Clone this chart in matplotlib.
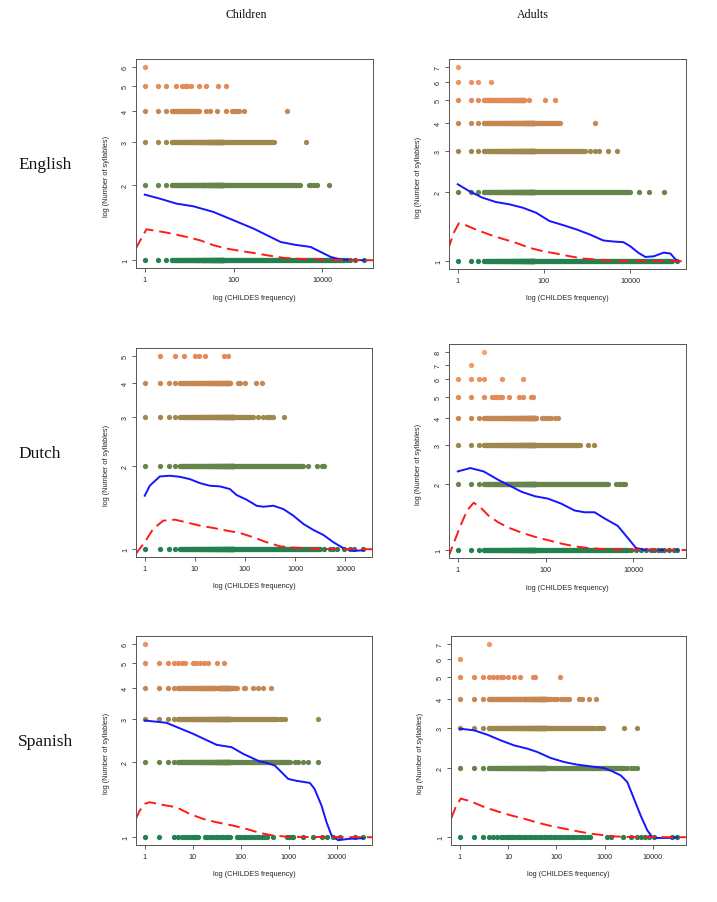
import numpy as np
import matplotlib.pyplot as plt

W, H = 717, 903

# point colours for 1 .. 8 syllables
syl_colors = ['#23804f', '#67844a', '#9e884e', '#c68753',
              '#e38a58', '#ef9262', '#f49a6a', '#f6a276']

# ---------------- English, children ----------------
en_ch_sparse = [
    [1, 2, 3, 36000, 42000, 55000, 87000],
    [1, 2, 3, 5000, 5600, 6500, 7600, 14000],
    [1, 2, 3, 4200],
    [1, 2, 3, 17, 24, 30, 42, 67, 91, 99, 108, 118, 129, 173, 1550],
    [1, 2, 3, 5, 7, 8, 9, 11, 17, 24, 44, 67],
    [1],
]
en_ch_runs = [[(4, 30000)], [(4, 3200)], [(4, 800)], [(4, 15)], [], []]
en_ch_blue_lf = [0, 0.339, 0.716, 1.094, 1.546, 1.998, 2.451, 2.753, 3.054,
                 3.356, 3.733, 3.959, 4.186, 4.412, 4.94]
en_ch_blue_y = [1.836, 1.769, 1.689, 1.648, 1.564, 1.448, 1.340, 1.260, 1.185,
                1.156, 1.131, 1.080, 1.031, 1.006, 1.0]
en_ch_red_lf = [-0.204, 0.038, 0.49, 0.943, 1.244, 1.546, 1.848, 2.149, 2.451,
                2.753, 3.13, 3.507, 3.884, 4.261, 5.2]
en_ch_red_y = [1.114, 1.332, 1.292, 1.241, 1.203, 1.149, 1.114, 1.090, 1.070,
               1.047, 1.022, 1.012, 1.006, 1.003, 1.0]

# ---------------- English, adults ----------------
en_ad_sparse = [
    [1, 2, 3, 124000],
    [1, 2, 3, 15700, 26900, 60000],
    [1, 2, 3, 1150, 1520, 1900, 3100, 4900],
    [1, 2, 3, 1520],
    [1, 2, 3, 46, 108, 182],
    [1, 2, 3, 6],
    [1],
]
en_ad_runs = [[(4, 94000)], [(4, 10000)], [(4, 890)], [(4, 230)], [(4, 35)], [], []]
en_ad_blue_lf = [0, 0.257, 0.569, 0.881, 1.193, 1.505, 1.817, 2.129, 2.441,
                 2.753, 3.064, 3.376, 3.61, 3.844, 4.0, 4.195, 4.351, 4.546,
                 4.78, 4.936, 5.09]
en_ad_blue_y = [2.16, 2.021, 1.890, 1.809, 1.768, 1.709, 1.625, 1.495, 1.436,
                1.375, 1.307, 1.231, 1.218, 1.210, 1.163, 1.087, 1.044, 1.05,
                1.090, 1.080, 1.0]
en_ad_red_lf = [-0.226, -0.094, 0.023, 0.14, 0.413, 0.725, 1.037, 1.349, 1.661,
                1.973, 2.285, 2.597, 2.908, 3.22, 3.532, 3.844, 5.4]
en_ad_red_y = [1.124, 1.329, 1.46, 1.446, 1.375, 1.307, 1.252, 1.202, 1.144,
               1.106, 1.080, 1.051, 1.027, 1.017, 1.007, 1.003, 1.0]

# ---------------- Dutch, children ----------------
nl_ch_sparse = [
    [1, 2, 3, 4, 3700, 5000, 5800, 6800, 9300, 12600, 14700, 23000],
    [1, 2, 3, 4, 1850, 2700, 3400, 3800],
    [1, 2, 3, 4, 147, 184, 233, 270, 290, 316, 370, 590],
    [1, 2, 3, 4, 74, 79, 100, 170, 215],
    [2, 4, 6, 10, 12, 16, 38, 46],
]
nl_ch_runs = [[(5, 3160)], [(5, 1470)], [(5, 135)], [(5, 50)], []]
nl_ch_blue_lf = [0, 0.1, 0.3, 0.5, 0.7, 0.9, 1.1, 1.3, 1.5, 1.7, 1.833, 2.033,
                 2.233, 2.367, 2.567, 2.767, 2.967, 3.167, 3.367, 3.567, 3.767,
                 3.967, 4.167, 4.367]
nl_ch_blue_y = [1.561, 1.696, 1.832, 1.843, 1.827, 1.792, 1.734, 1.696, 1.687,
                1.650, 1.570, 1.510, 1.436, 1.424, 1.436, 1.397, 1.322, 1.234,
                1.174, 1.126, 1.06, 1.008, 0.986, 0.992]
nl_ch_red_lf = [-0.18, 0, 0.167, 0.367, 0.6, 0.833, 1.1, 1.367, 1.633, 1.9,
                2.167, 2.433, 2.7, 2.967, 3.233, 3.5, 4.6]
nl_ch_red_y = [0.962, 1.06, 1.184, 1.268, 1.279, 1.251, 1.217, 1.194, 1.168,
               1.145, 1.105, 1.06, 1.025, 1.014, 1.008, 1.003, 1.0]

# ---------------- Dutch, adults ----------------
nl_ad_sparse = [
    [1, 2, 3, 8900, 11500, 14800, 19300, 25000, 30000, 35800, 42500, 50000,
     66000, 85000, 100000],
    [1, 2, 3, 4000, 4800, 5300, 5700, 6300],
    [1, 2, 3, 925, 1240],
    [1, 2, 3, 81, 96, 115, 136, 162, 195],
    [1, 2, 4, 6, 7, 8, 9, 10, 15, 25, 31, 47, 51],
    [1, 2, 3, 4, 10, 31],
    [2],
    [4],
]
nl_ad_runs = [[(4, 7400)], [(4, 2630)], [(4, 600)], [(4, 62)], [], [], [], []]
nl_ad_blue_lf = [0, 0.287, 0.589, 0.928, 1.155, 1.457, 1.758, 2.06, 2.362,
                 2.664, 2.89, 3.117, 3.343, 3.645, 3.872, 4.06, 4.249, 4.475, 5.0]
nl_ad_blue_y = [2.283, 2.365, 2.283, 2.087, 1.979, 1.842, 1.759, 1.715, 1.626,
                1.514, 1.487, 1.487, 1.394, 1.289, 1.137, 1.022, 1.004, 1.0, 1.0]
nl_ad_red_lf = [-0.219, -0.09, 0.06, 0.211, 0.362, 0.513, 0.702, 0.928, 1.155,
                1.457, 1.758, 2.06, 2.362, 2.664, 2.966, 3.419, 5.3]
nl_ad_red_y = [0.924, 1.078, 1.289, 1.514, 1.643, 1.569, 1.434, 1.336, 1.266,
               1.200, 1.149, 1.109, 1.070, 1.040, 1.022, 1.007, 1.0]

# ---------------- Spanish, children ----------------
es_ch_sparse = [
    [1, 2, 4, 5, 6, 7, 8, 9, 10, 11, 12, 13, 18, 20, 23, 27, 30, 34, 38, 43,
     49, 55, 61, 82, 93, 104, 116, 132, 150, 168, 188, 214, 243, 272, 304, 346,
     477, 904, 1028, 1150, 1250, 2000, 3260, 4860, 6170, 8500, 11700, 24100,
     36000],
    [1, 2, 3, 4, 1350, 1590, 2000, 2550, 4100],
    [1, 2, 3, 4, 660, 745, 830, 4100],
    [1, 2, 3, 4, 116, 126, 182, 232, 295, 420],
    [1, 2, 3, 4, 5, 6, 7, 10, 12, 14, 17, 21, 32, 45],
    [1],
]
es_ch_runs = [[], [(5, 1060)], [(5, 560)], [(5, 29), (34, 82)], [], []]
es_ch_blue_lf = [0, 0.452, 1.009, 1.5, 1.809, 2.052, 2.4, 2.539, 2.713, 2.852,
                 2.991, 3.165, 3.443, 3.54, 3.686, 3.791, 3.895, 4.035, 4.243,
                 4.556]
es_ch_blue_y = [2.948, 2.886, 2.606, 2.353, 2.303, 2.165, 2.016, 1.992, 1.943,
                1.826, 1.717, 1.686, 1.654, 1.565, 1.341, 1.149, 1.016, 0.973,
                0.985, 0.991]
es_ch_red_lf = [-0.188, -0.104, 0, 0.104, 0.383, 0.661, 0.939, 1.217, 1.496,
                1.843, 2.122, 2.4, 2.678, 2.957, 3.235, 4.8]
es_ch_red_y = [1.185, 1.280, 1.362, 1.383, 1.349, 1.320, 1.241, 1.185, 1.149,
               1.114, 1.080, 1.041, 1.016, 1.006, 1.003, 1.0]

# ---------------- Spanish, adults ----------------
es_ad_sparse = [
    [1, 2, 3, 4, 5, 6, 7, 8, 9, 10, 11, 12, 13, 15, 17, 19, 21, 24, 27, 30, 34,
     38, 43, 48, 55, 62, 70, 79, 89, 100, 113, 128, 145, 164, 185, 210, 237,
     268, 303, 343, 400, 452, 510, 1140, 1370, 2400, 3600, 4740, 5560, 7000,
     8300, 10500, 25000, 32000],
    [1, 2, 3, 2950, 3470, 4070, 4740],
    [1, 2, 3, 705, 760, 850, 925, 2500, 4740],
    [1, 2, 3, 90, 105, 123, 144, 169, 182, 295, 335, 474, 650],
    [1, 2, 3, 4, 5, 6, 7, 8, 10, 13, 18, 33, 36, 117],
    [1],
    [4],
]
es_ad_runs = [[], [(4, 2500)], [(4, 600)], [(4, 76)], [], [], []]
es_ad_blue_lf = [0, 0.297, 0.572, 0.848, 1.124, 1.4, 1.607, 1.883, 2.159,
                 2.434, 2.71, 2.986, 3.159, 3.331, 3.469, 3.607, 3.745, 3.883,
                 3.986, 4.09, 4.297, 4.503]
es_ad_blue_y = [2.980, 2.930, 2.805, 2.650, 2.520, 2.437, 2.357, 2.219, 2.132,
                2.075, 2.040, 2.006, 1.941, 1.865, 1.744, 1.475, 1.247, 1.073,
                1.003, 0.993, 0.993, 1.0]
es_ad_red_lf = [-0.172, -0.083, 0.021, 0.228, 0.503, 0.779, 1.055, 1.331, 1.607,
                1.883, 2.159, 2.434, 2.71, 2.986, 3.262, 3.538, 4.8]
es_ad_red_y = [1.214, 1.356, 1.475, 1.436, 1.356, 1.298, 1.247, 1.206, 1.159,
               1.121, 1.091, 1.062, 1.037, 1.020, 1.007, 1.003, 1.0]

ticks_wide = [1, 100, 10000]
ticks_all = [1, 10, 100, 1000, 10000]

col_titles = ['Children', 'Adults']
row_titles = ['English', 'Dutch', 'Spanish']

plt.rcParams['font.family'] = 'Liberation Sans'
txt_col = '#262626'
MS = 3.8  # dot diameter, points

fig = plt.figure(figsize=(W / 100, H / 100), dpi=100)


def panel(box, sparse, runs, blue_lf, blue_y, red_lf, red_y, xticks):
    l, t, r, b = box
    ax = fig.add_axes([l / W, 1 - b / H, (r - l) / W, (b - t) / H])
    ax.set_xscale('log')
    ax.set_yscale('log')
    nsyl = len(sparse)
    fmax = 1
    for i in range(nsyl):
        f = list(sparse[i])
        yv = i + 1.0
        for lo, hi in runs[i]:
            # a run of consecutive frequencies reads as a solid band
            ax.plot([lo, hi], [yv, yv], lw=MS, solid_capstyle='round',
                    color=syl_colors[i])
            f.extend(range(lo, min(hi, 60) + 1))
            fmax = max(fmax, hi)
        f = np.array(f, float)
        fmax = max(fmax, f.max())
        ax.plot(f, np.full(len(f), yv), 'o', ms=MS, mew=0,
                color=syl_colors[i])
    ax.plot(10 ** np.array(blue_lf), blue_y, color='#1515ff', lw=1.4)
    ax.plot(10 ** np.array(red_lf), red_y, color='#ff1a1a', lw=1.4,
            ls=(0, (6, 3)))
    # R style 4 % padding in log space
    lx = np.log10(fmax)
    ly = np.log10(nsyl)
    ax.set_xlim(10 ** (-0.04 * lx), 10 ** (1.04 * lx))
    ax.set_ylim(10 ** (-0.04 * ly), 10 ** (1.04 * ly))
    ax.set_xticks(xticks)
    ax.set_xticklabels([str(v) for v in xticks])
    ax.set_yticks(range(1, nsyl + 1))
    ax.set_yticklabels([str(v) for v in range(1, nsyl + 1)], rotation=90,
                       va='center')
    ax.minorticks_off()
    ax.tick_params(length=3, width=0.6, color='#444444', labelsize=5.2,
                   labelcolor=txt_col)
    ax.tick_params(axis='x', pad=2.5)
    ax.tick_params(axis='y', pad=2.0)
    for s in ax.spines.values():
        s.set_color('#555555')
        s.set_linewidth(0.7)
    w = r - l
    h = b - t
    ax.text(0.5, -29 / h, 'log (CHILDES frequency)', transform=ax.transAxes,
            ha='center', va='center', fontsize=5.3, color=txt_col)
    ax.text(-30 / w, 0.5 - 12 / h, 'log (Number of syllables)',
            transform=ax.transAxes, rotation=90, ha='center', va='center',
            fontsize=5.3, color=txt_col)
    return ax


panel((136, 60, 373, 269), en_ch_sparse, en_ch_runs, en_ch_blue_lf,
      en_ch_blue_y, en_ch_red_lf, en_ch_red_y, ticks_wide)
panel((449, 60, 686, 270), en_ad_sparse, en_ad_runs, en_ad_blue_lf,
      en_ad_blue_y, en_ad_red_lf, en_ad_red_y, ticks_wide)
panel((136, 349, 372, 558), nl_ch_sparse, nl_ch_runs, nl_ch_blue_lf,
      nl_ch_blue_y, nl_ch_red_lf, nl_ch_red_y, ticks_all)
panel((449, 345, 686, 559), nl_ad_sparse, nl_ad_runs, nl_ad_blue_lf,
      nl_ad_blue_y, nl_ad_red_lf, nl_ad_red_y, ticks_wide)
panel((136, 637, 372, 846), es_ch_sparse, es_ch_runs, es_ch_blue_lf,
      es_ch_blue_y, es_ch_red_lf, es_ch_red_y, ticks_all)
panel((451, 637, 686, 846), es_ad_sparse, es_ad_runs, es_ad_blue_lf,
      es_ad_blue_y, es_ad_red_lf, es_ad_red_y, ticks_all)

serif = 'Liberation Serif'
for x, s in zip([246, 533], col_titles):
    fig.text(x / W, 1 - 18.5 / H, s, ha='center', va='baseline',
             family=serif, fontsize=8.6, color='#111111')
for y, s in zip([169, 458, 746.5], row_titles):
    fig.text(18 / W, 1 - y / H, s, ha='left', va='baseline',
             family=serif, fontsize=12.5, color='#111111')

fig.savefig('out.png', dpi=100)
